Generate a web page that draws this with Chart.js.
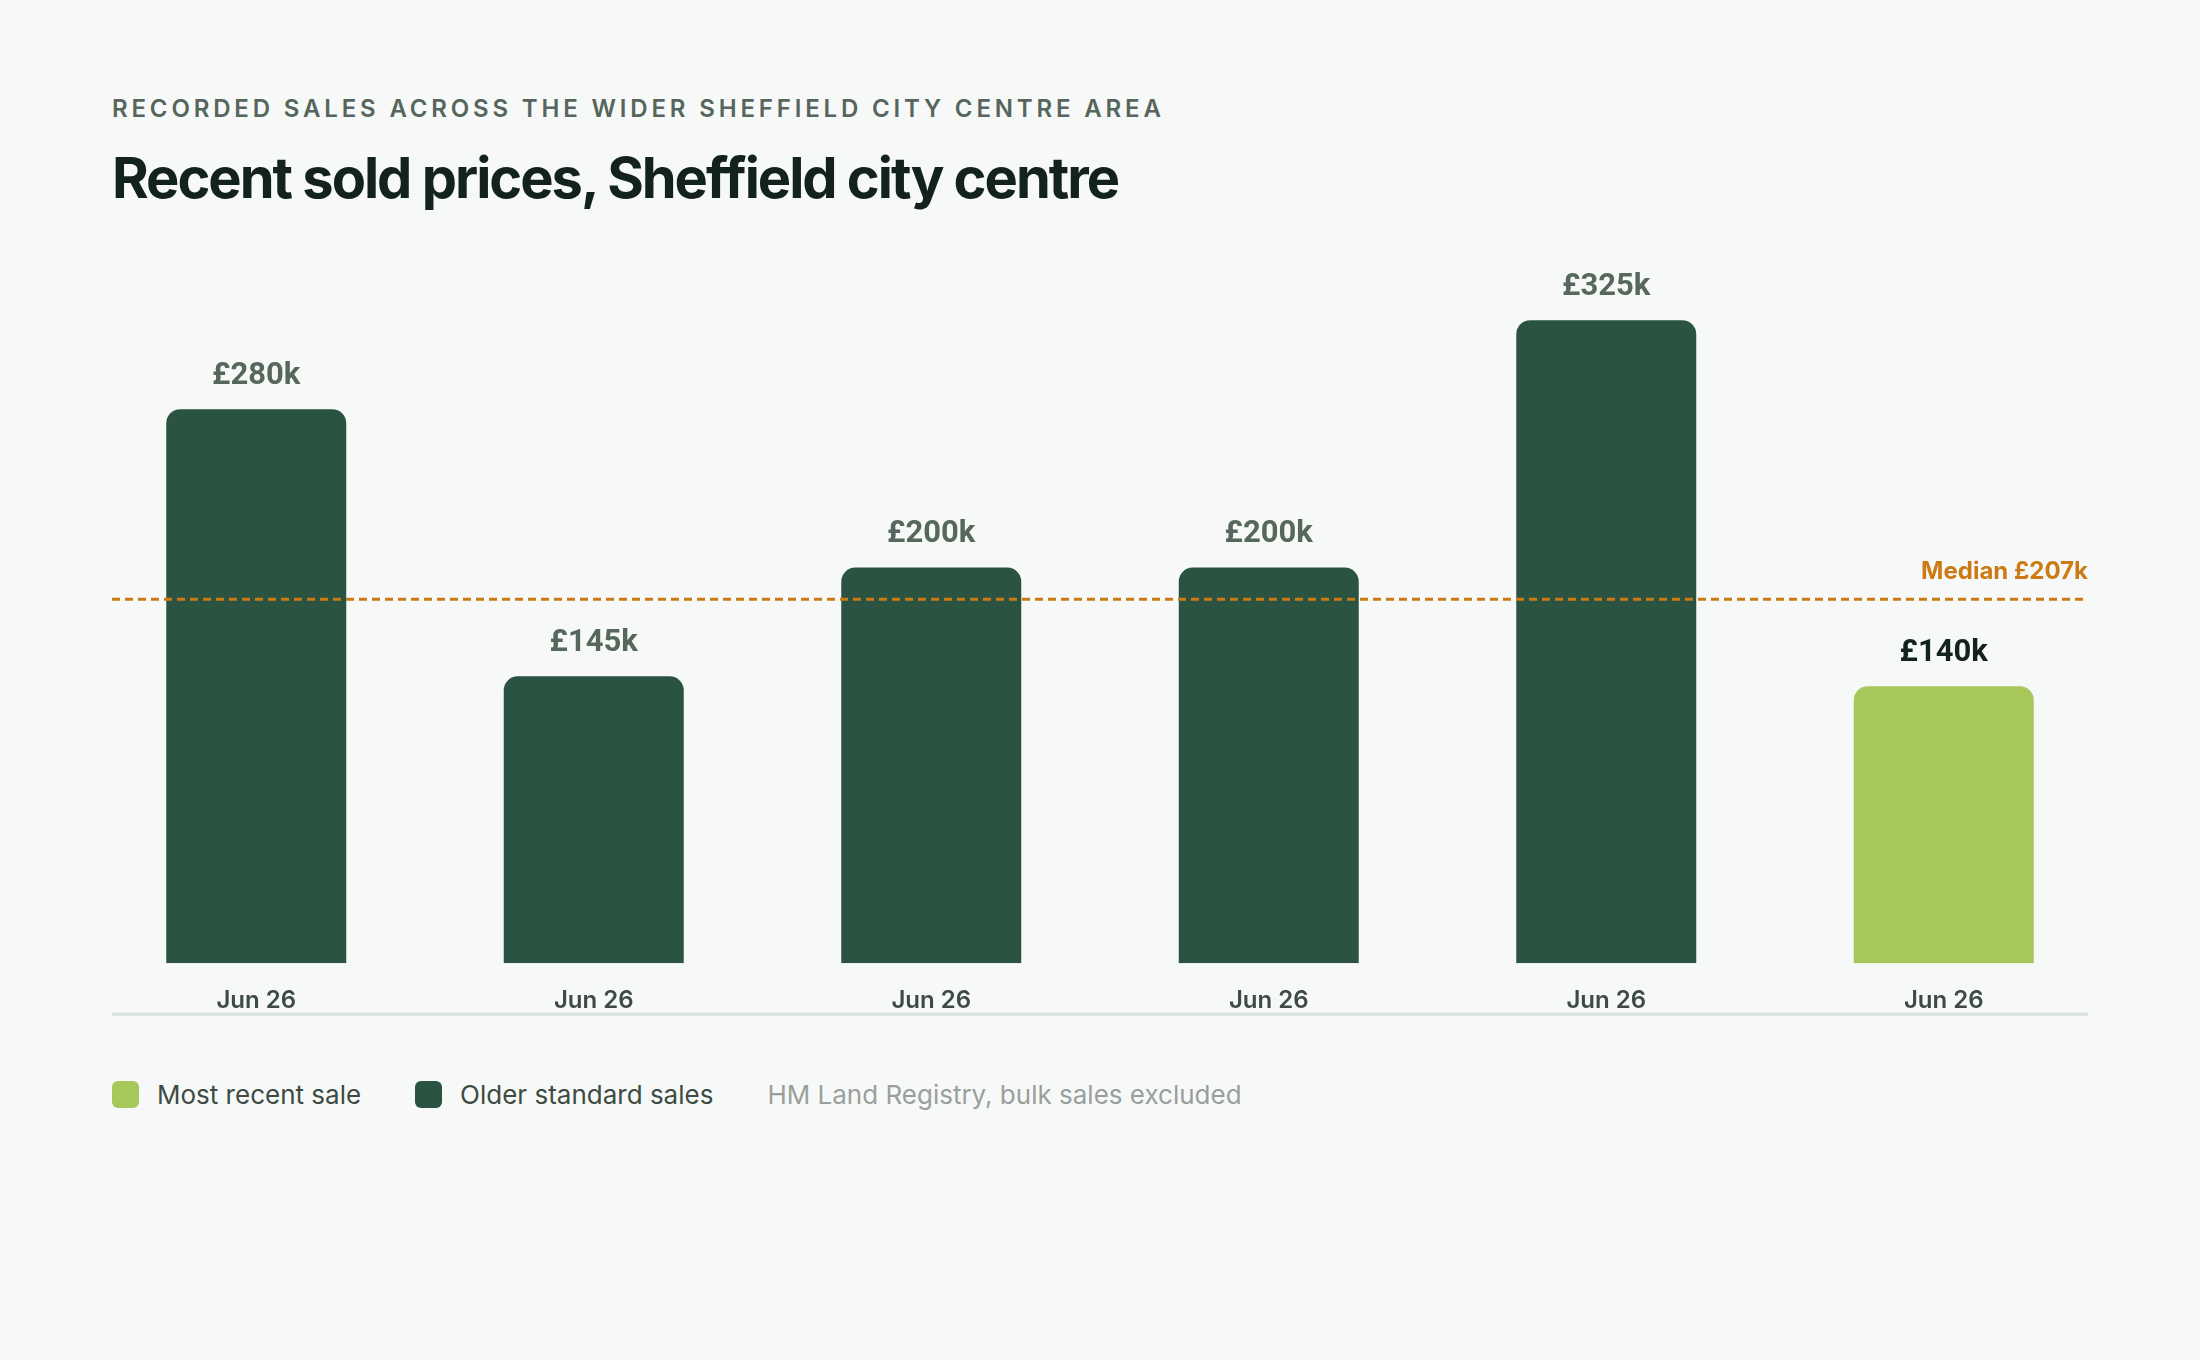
<!DOCTYPE html>
<html>
<head>
<meta charset="utf-8">
<script src="https://cdn.jsdelivr.net/npm/chart.js@4.4.1/dist/chart.umd.min.js"></script>
<style>
  html, body { margin:0; padding:0; background:#f7f9f8; width:2200px; height:1360px; overflow:hidden; }
  body { position:relative; font-family: Inter, Lato, "Noto Sans", sans-serif; }
  #sub { position:absolute; left:112px; top:95px; font-size:24px; font-weight:600; letter-spacing:0.16em; color:#56665c; white-space:nowrap; line-height:28px; }
  #title { position:absolute; left:112px; top:145px; font-size:56px; font-weight:700; letter-spacing:-0.036em; color:#13231b; white-space:nowrap; line-height:66px; }
  #wrap { position:absolute; left:0; top:230px; width:2200px; height:820px; }
  #legend { position:absolute; left:112px; top:1076px; height:36px; display:flex; align-items:center; font-size:26px; color:#3d4b43; white-space:nowrap; }
  .sw { width:27px; height:27px; border-radius:6px; margin-right:18px; }
  .item { display:flex; align-items:center; margin-right:54px; }
  .src { color:#9a9f9c; }
</style>
</head>
<body>
<div id="sub">RECORDED SALES ACROSS THE WIDER SHEFFIELD CITY CENTRE AREA</div>
<div id="title">Recent sold prices, Sheffield city centre</div>
<div id="wrap"><canvas id="c"></canvas></div>
<div id="legend">
  <div class="item"><div class="sw" style="background:#a6c75a"></div><span>Most recent sale</span></div>
  <div class="item"><div class="sw" style="background:#2a5342"></div><span>Older standard sales</span></div>
  <div class="item src"><span>HM Land Registry, bulk sales excluded</span></div>
</div>
<script>
// ---- data ----
const categories = ["Jun 26", "Jun 26", "Jun 26", "Jun 26", "Jun 26", "Jun 26"];
const pricesK = [280, 145, 200, 200, 325, 140];
const isMostRecent = [false, false, false, false, false, true];
const medianLabelK = 207;      // value printed in the median label
const medianLineLevelK = 184;  // level at which the dashed line is drawn in the reference

const COLOR_OLD = "#2a5342";
const COLOR_RECENT = "#a6c75a";
const COLOR_MEDIAN = "#cc7a14";

const fmt = v => "£" + v + "k";

const overlay = {
  id: "overlay",
  afterDatasetsDraw(chart) {
    const ctx = chart.ctx;
    const area = chart.chartArea;
    const y = chart.scales.y;
    const inset = 24.5;
    const left = area.left + inset, right = area.right - inset;
    // baseline rule
    ctx.save();
    ctx.strokeStyle = "#d9e3df";
    ctx.lineWidth = 3.5;
    ctx.beginPath();
    ctx.moveTo(left, area.bottom + 51);
    ctx.lineTo(right, area.bottom + 51);
    ctx.stroke();
    // value labels
    const meta = chart.getDatasetMeta(0);
    ctx.font = "700 31px Roboto, sans-serif";
    ctx.textAlign = "center";
    ctx.textBaseline = "middle";
    meta.data.forEach((bar, i) => {
      ctx.fillStyle = isMostRecent[i] ? "#13231b" : "#56675c";
      ctx.fillText(fmt(pricesK[i]), bar.x, bar.y - 33);
    });
    // median line
    const my = y.getPixelForValue(medianLineLevelK);
    ctx.strokeStyle = COLOR_MEDIAN;
    ctx.lineWidth = 3;
    ctx.setLineDash([8, 5]);
    ctx.beginPath();
    ctx.moveTo(left, my);
    ctx.lineTo(right, my);
    ctx.stroke();
    ctx.setLineDash([]);
    ctx.fillStyle = COLOR_MEDIAN;
    ctx.font = "700 24px Inter, sans-serif";
    ctx.textAlign = "right";
    ctx.textBaseline = "middle";
    ctx.fillText("Median " + fmt(medianLabelK), right, my - 27);
    ctx.restore();
  }
};

new Chart(document.getElementById("c"), {
  type: "bar",
  data: {
    labels: categories,
    datasets: [{
      data: pricesK,
      backgroundColor: isMostRecent.map(r => r ? COLOR_RECENT : COLOR_OLD),
      borderRadius: 14,
      borderSkipped: "start",
      categoryPercentage: 1,
      barPercentage: 0.5333
    }]
  },
  options: {
    responsive: true,
    maintainAspectRatio: false,
    animation: false,
    devicePixelRatio: 1,
    layout: { padding: { left: 87.5, right: 87.5, top: 21, bottom: 12 } },
    plugins: { legend: { display: false }, tooltip: { enabled: false } },
    scales: {
      x: {
        grid: { display: false, drawTicks: false },
        border: { display: false },
        ticks: { color: "#3d4b43", font: { family: "Inter, sans-serif", size: 24, weight: "600" }, padding: 23 }
      },
      y: { display: false, min: 0, max: 360 }
    }
  },
  plugins: [overlay]
});
</script>
</body>
</html>
